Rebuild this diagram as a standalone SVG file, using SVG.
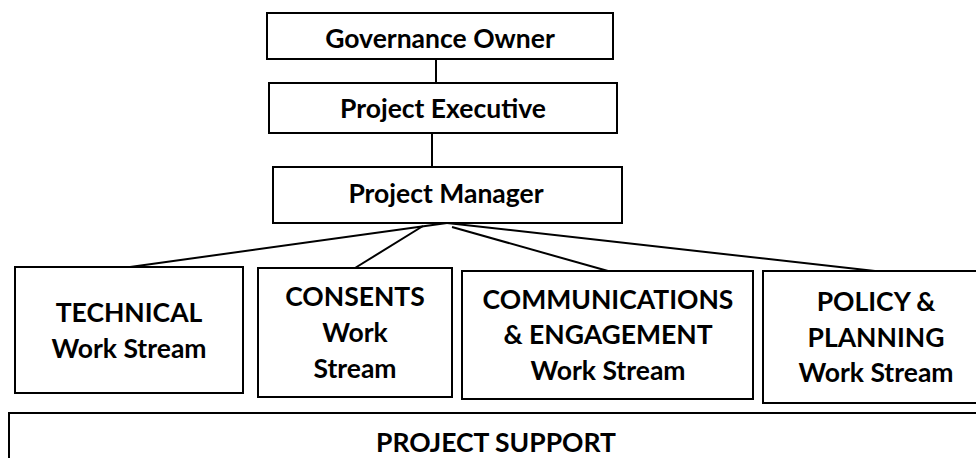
<svg xmlns="http://www.w3.org/2000/svg" width="976" height="458" viewBox="0 0 976 458">
<style>
.box{fill:#fff;stroke:#000;stroke-width:2}
.ln{stroke:#000;stroke-width:2;fill:none}
text{font-family:Lato,"Liberation Sans",sans-serif;font-weight:bold;font-size:26.5px;fill:#000;text-anchor:middle}
</style>
<rect width="976" height="458" fill="#fff"/>
<g id="connectors">
<line class="ln" x1="436" y1="59" x2="436" y2="83"/>
<line class="ln" x1="432" y1="133" x2="432" y2="167"/>
<line class="ln" x1="447" y1="223" x2="130" y2="267"/>
<line class="ln" x1="423" y1="226" x2="355" y2="268"/>
<line class="ln" x1="452" y1="227" x2="608" y2="271"/>
<line class="ln" x1="447" y1="223" x2="875" y2="271"/>
</g>
<g id="governance-owner">
<rect class="box" x="267" y="13" width="346" height="46"/>
<text x="440" y="48">Governance Owner</text>
</g>
<g id="project-executive">
<rect class="box" x="269" y="83" width="348" height="50"/>
<text x="443" y="118">Project Executive</text>
</g>
<g id="project-manager">
<rect class="box" x="273" y="167" width="349" height="56"/>
<text x="446" y="203">Project Manager</text>
</g>
<g id="technical">
<rect class="box" x="15" y="267" width="228" height="126"/>
<text x="129" y="322">TECHNICAL</text>
<text x="129" y="358">Work Stream</text>
</g>
<g id="consents">
<rect class="box" x="258" y="268" width="194" height="129"/>
<text x="355" y="306">CONSENTS</text>
<text x="355" y="342">Work</text>
<text x="355" y="378">Stream</text>
</g>
<g id="communications">
<rect class="box" x="462" y="271" width="291" height="128"/>
<text x="608" y="309">COMMUNICATIONS</text>
<text x="608" y="344">&amp; ENGAGEMENT</text>
<text x="608" y="380">Work Stream</text>
</g>
<g id="policy">
<rect class="box" x="763" y="271" width="220" height="132"/>
<text x="876" y="311">POLICY &amp;</text>
<text x="876" y="347">PLANNING</text>
<text x="876" y="382">Work Stream</text>
</g>
<g id="project-support">
<rect class="box" x="9" y="413" width="980" height="60"/>
<text x="496" y="452">PROJECT SUPPORT</text>
</g>
</svg>
